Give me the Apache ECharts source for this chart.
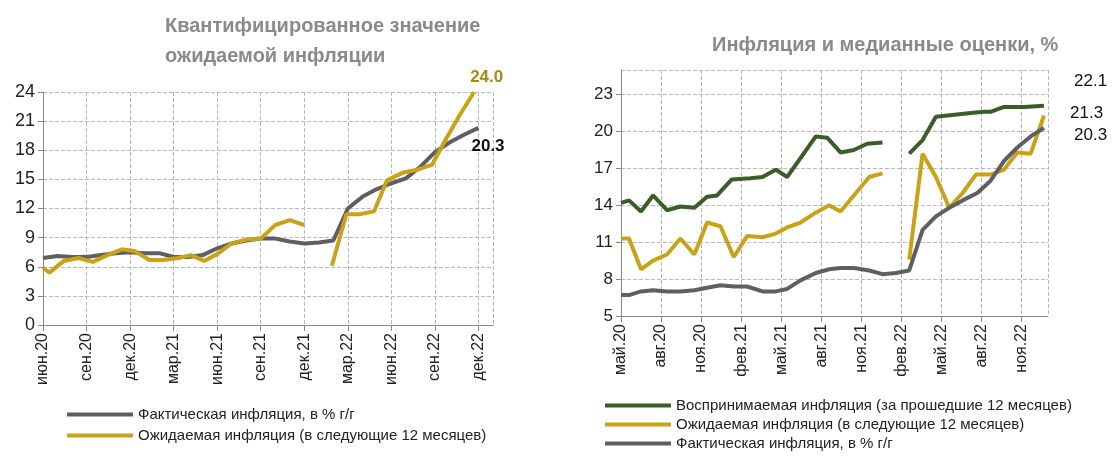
<!DOCTYPE html>
<html><head><meta charset="utf-8">
<script src="https://cdn.jsdelivr.net/npm/echarts@6/dist/echarts.min.js"></script>
<style>html,body{margin:0;background:#fff}#c{width:1120px;height:457px}</style>
</head><body><div id="c"></div>
<script>
// левый график: месяцы от июн.20
var leftTicks = ['июн.20','сен.20','дек.20','мар.21','июн.21','сен.21','дек.21','мар.22','июн.22','сен.22','дек.22'];
var leftFactY = [6.9,7.1,7.0,7.0,7.2,7.4,7.5,7.4,7.4,7.0,7.0,7.2,7.9,8.4,8.7,8.9,8.9,8.6,8.4,8.5,8.7,12.0,13.2,14.0,14.6,15.1,16.3,17.8,18.8,19.6,20.3];
var leftExpX = [0,0.44,1.44,2.44,3.44,4.44,5.44,6.33,7.33,8.33,9.33,10.2,11.1,12,13,14,15,16,17,18,null,19.9,20.9,21.8,22.8,23.7,24.8,25.8,26.8,27.7,28.7,29.7];
var leftExpY = [5.9,5.4,6.6,6.9,6.5,7.2,7.8,7.6,6.7,6.7,6.9,7.2,6.6,7.3,8.4,8.8,8.9,10.3,10.8,10.3,null,6.1,11.4,11.4,11.7,14.9,15.7,16.0,16.5,19.0,21.6,24.0];

// правый график: месяцы от май.20
var rightTicks = ['май.20','авг.20','ноя.20','фев.21','май.21','авг.21','ноя.21','фев.22','май.22','авг.22','ноя.22'];
var rPercX = [0,0.6,1.5,2.4,3.45,4.45,5.5,6.45,7.2,8.3,9.7,10.6,11.6,12.45,14.6,15.45,16.45,17.45,18.45,19.6,null,21.6,22.6,23.6,26.2,27.2,27.7,28.7,30.2,31.7];
var rPercY = [14.2,14.4,13.5,14.8,13.6,13.9,13.8,14.7,14.8,16.1,16.2,16.3,16.9,16.3,19.6,19.5,18.3,18.5,19.0,19.1,null,18.2,19.3,21.2,21.5,21.6,21.6,22.0,22.0,22.1];
var rExpX = [0,0.6,1.5,2.4,3.45,4.45,5.5,6.45,7.45,8.45,9.45,10.6,11.6,12.45,13.45,14.6,15.6,16.45,17.45,18.6,19.6,null,21.6,22.6,23.6,24.6,25.6,26.6,27.7,28.7,29.7,30.7,31.7];
var rExpY = [11.3,11.3,8.8,9.5,10.0,11.3,10.0,12.6,12.3,9.8,11.5,11.4,11.7,12.2,12.6,13.4,14.0,13.5,14.8,16.3,16.6,null,9.6,18.2,16.3,13.8,15.0,16.5,16.5,16.9,18.3,18.2,21.3];
var rFactX = [0,0.6,1.5,2.4,3.45,4.45,5.5,6.45,7.45,8.45,9.45,10.6,11.6,12.45,13.45,14.6,15.6,16.45,17.45,18.6,19.6,20.6,21.6,22.6,23.6,24.6,25.6,26.7,27.7,28.7,29.7,30.7,31.7];
var rFactY = [6.7,6.7,7.0,7.1,7.0,7.0,7.1,7.3,7.5,7.4,7.4,7.0,7.0,7.2,7.9,8.5,8.8,8.9,8.9,8.7,8.4,8.5,8.7,12.0,13.1,13.8,14.4,15.0,16.0,17.6,18.7,19.6,20.3];

var GRAY = '#5f5f63', GOLD = '#c9a217', GREEN = '#3b5e29';
function pairs(xs, ys){ return xs.map(function(x,i){ return x === null ? [null,null] : [x, ys[i]]; }); }
function monthly(ys){ return ys.map(function(y,i){ return [i, y]; }); }

var FONT = '"Liberation Sans", Arial, sans-serif';
var lbl = {fontFamily:FONT, color:'#222', fontSize:16};
var grid = {type:'dashed', color:'#b8b8b8'};
var legText = {fontSize:15, color:'#222', fontFamily:FONT};
var chart = echarts.init(document.getElementById('c'));
chart.setOption({
  animation:false,
  title:[
    {text:'Квантифицированное значение\nожидаемой инфляции', left:160, top:6,
     textStyle:{fontSize:20, fontWeight:'bold', color:'#8a8a8a', lineHeight:30, fontFamily:FONT}},
    {text:'Инфляция и медианные оценки, %', left:707, top:30,
     textStyle:{fontSize:20, fontWeight:'bold', color:'#8a8a8a', fontFamily:FONT}}
  ],
  legend:[
    {left:62, top:402, orient:'vertical', itemGap:6, itemWidth:66, itemHeight:4, icon:'rect',
     textStyle:legText,
     data:['Фактическая инфляция, в % г/г','Ожидаемая инфляция (в следующие 12 месяцев)']},
    {left:600, top:393, orient:'vertical', itemGap:4, itemWidth:66, itemHeight:4, icon:'rect',
     textStyle:legText,
     data:['Воспринимаемая инфляция (за прошедшие 12 месяцев)','Ожидаемая инфляция (в следующие 12 месяцев) ','Фактическая инфляция, в % г/г ']}
  ],
  grid:[
    {left:43, top:92, width:450, height:233},
    {left:621, top:70, width:427, height:246}
  ],
  xAxis:[
    {gridIndex:0, type:'value', min:0, max:31, interval:3,
     axisLine:{lineStyle:{color:'#888'}}, axisTick:{length:6, lineStyle:{color:'#888'}},
     splitLine:{lineStyle:grid},
     axisLabel:Object.assign({rotate:90, showMaxLabel:false, formatter:function(v){ return leftTicks[v/3] || ''; }}, lbl)},
    {gridIndex:1, type:'value', min:0, max:32, interval:3,
     axisLine:{lineStyle:{color:'#888'}}, axisTick:{length:6, lineStyle:{color:'#888'}},
     splitLine:{lineStyle:grid},
     axisLabel:Object.assign({rotate:90, showMaxLabel:false, formatter:function(v){ return rightTicks[v/3] || ''; }}, lbl)}
  ],
  yAxis:[
    {gridIndex:0, type:'value', min:0, max:24, interval:3, axisLine:{show:true, lineStyle:{color:'#888'}},
     splitLine:{lineStyle:grid}, axisLabel:Object.assign({}, lbl, {fontSize:18})},
    {gridIndex:1, type:'value', min:5, max:25, interval:3, axisLine:{show:true, lineStyle:{color:'#888'}},
     splitLine:{lineStyle:grid}, axisLabel:Object.assign({}, lbl, {fontSize:17, showMaxLabel:false})}
  ],
  series:[
    {name:'Фактическая инфляция, в % г/г', type:'line', xAxisIndex:0, yAxisIndex:0, showSymbol:false,
     lineStyle:{width:4, color:GRAY}, itemStyle:{color:GRAY}, data:monthly(leftFactY),
     endLabel:{show:true, formatter:'20.3', offset:[-15,18], fontSize:17, fontWeight:'bold', color:'#111'}},
    {name:'Ожидаемая инфляция (в следующие 12 месяцев)', type:'line', xAxisIndex:0, yAxisIndex:0, showSymbol:false,
     lineStyle:{width:4, color:GOLD}, itemStyle:{color:GOLD}, data:pairs(leftExpX, leftExpY),
     endLabel:{show:true, formatter:'24.0', offset:[-12,-15], fontSize:17, fontWeight:'bold', color:'#a88a10'}},
    {name:'Воспринимаемая инфляция (за прошедшие 12 месяцев)', type:'line', xAxisIndex:1, yAxisIndex:1, showSymbol:false,
     lineStyle:{width:4, color:GREEN}, itemStyle:{color:GREEN}, data:pairs(rPercX, rPercY),
     endLabel:{show:true, formatter:'22.1', offset:[22,-24], fontSize:17, color:'#111'}},
    {name:'Ожидаемая инфляция (в следующие 12 месяцев) ', type:'line', xAxisIndex:1, yAxisIndex:1, showSymbol:false,
     lineStyle:{width:4, color:GOLD}, itemStyle:{color:GOLD}, data:pairs(rExpX, rExpY),
     endLabel:{show:true, formatter:'21.3', offset:[18,-2], fontSize:17, color:'#111'}},
    {name:'Фактическая инфляция, в % г/г ', type:'line', xAxisIndex:1, yAxisIndex:1, showSymbol:false,
     lineStyle:{width:4, color:GRAY}, itemStyle:{color:GRAY}, data:pairs(rFactX, rFactY),
     endLabel:{show:true, formatter:'20.3', offset:[22,8], fontSize:17, color:'#111'}}
  ]
});
</script></body></html>
